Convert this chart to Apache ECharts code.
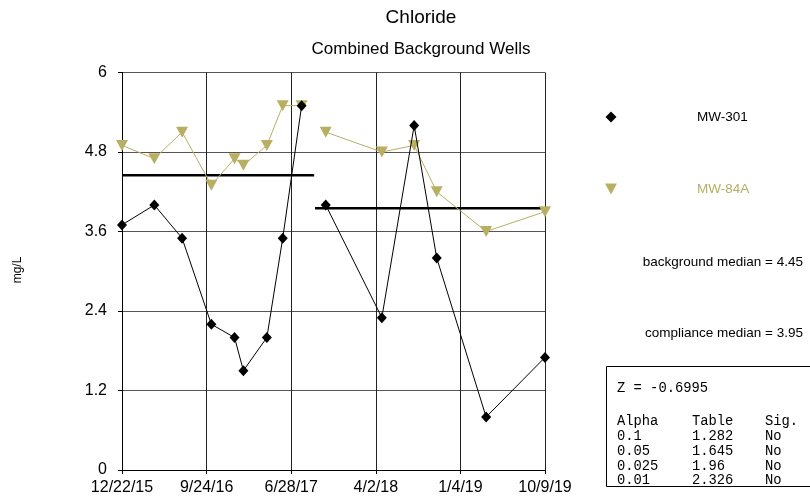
<!DOCTYPE html>
<html>
<head>
<meta charset="utf-8">
<script src="https://cdn.jsdelivr.net/npm/echarts@6/dist/echarts.min.js"></script>
<style>html,body{margin:0;padding:0;background:#fff}#c{width:810px;height:501px}</style>
</head>
<body>
<div id="c"></div>
<script>
// ---- data ----
const startDate = '2015-12-22';
const endDate = '2019-10-09';
const sampleDates = ['2015-12-22','2016-04-06','2016-07-06','2016-10-10','2016-12-25','2017-01-23','2017-04-10','2017-06-01','2017-08-02','2017-10-20','2018-04-22','2018-08-06','2018-10-19','2019-03-30','2019-10-09'];
const mw301 = [3.7,4.0,3.5,2.2,2.0,1.5,2.0,3.5,5.5,4.0,2.3,5.2,3.2,0.8,1.7];
const mw84a = [4.9,4.7,5.1,4.3,4.7,4.6,4.9,5.5,5.5,5.1,4.8,4.9,4.2,3.6,3.9];
const nBackground = 9; // first 9 samples = background period, rest = compliance
const bgMedianDates = ['2015-12-22','2017-09-12'];
const bgMedian = 4.45;
const cmMedianDates = ['2017-09-15','2019-10-09'];
const cmMedian = 3.95;
const yTicks = [0,1.2,2.4,3.6,4.8,6];
const tableRows = [['0.1','1.282','No'],['0.05','1.645','No'],['0.025','1.96','No'],['0.01','2.326','No']];
const zText = 'Z = -0.6995';

// ---- helpers ----
const DAY = 86400000;
const t0 = Date.parse(startDate + 'T00:00:00Z');
const toDay = s => Math.round((Date.parse(s + 'T00:00:00Z') - t0) / DAY);
const spanDays = toDay(endDate);
const xInterval = spanDays / 5;
function fmtDay(v) {
  const d = new Date(t0 + Math.floor(v + 1e-6) * DAY);
  return (d.getUTCMonth() + 1) + '/' + d.getUTCDate() + '/' + String(d.getUTCFullYear()).slice(2);
}
const olive = '#b8af62';
const F = 'Liberation Sans, Arial, sans-serif';
const M = 'Liberation Mono, Courier New, monospace';

const chart = echarts.init(document.getElementById('c'), null, {renderer: 'canvas'});

const graphics = [
  {type:'text', style:{text:'Chloride', x:421, y:18, textAlign:'center', textVerticalAlign:'middle', font:'19px ' + F, fill:'#000'}},
  {type:'text', style:{text:'Combined Background Wells', x:421, y:49, textAlign:'center', textVerticalAlign:'middle', font:'17px ' + F, fill:'#000'}},
  {type:'text', rotation:Math.PI/2, x:18, y:270, style:{text:'mg/L', x:0, y:0, textAlign:'center', textVerticalAlign:'middle', font:'12px ' + F, fill:'#000'}},
  {type:'polygon', shape:{points:[[611,111.5],[616.5,117],[611,122.5],[605.5,117]]}, style:{fill:'#000'}},
  {type:'text', style:{text:'MW-301', x:697, y:117, textAlign:'left', textVerticalAlign:'middle', font:'13.5px ' + F, fill:'#000'}},
  {type:'polygon', shape:{points:[[605,183.5],[617,183.5],[611,194.5]]}, style:{fill:olive}},
  {type:'text', style:{text:'MW-84A', x:697, y:189, textAlign:'left', textVerticalAlign:'middle', font:'13.5px ' + F, fill:olive}},
  {type:'text', style:{text:'background median = 4.45', x:803, y:262, textAlign:'right', textVerticalAlign:'middle', font:'13.5px ' + F, fill:'#000'}},
  {type:'text', style:{text:'compliance median = 3.95', x:803, y:333, textAlign:'right', textVerticalAlign:'middle', font:'13.5px ' + F, fill:'#000'}},
  {type:'rect', shape:{x:606.5, y:366.5, width:220, height:120}, style:{fill:'#fff', stroke:'#000', lineWidth:1}},
  {type:'text', style:{text:zText, x:617, y:388, textAlign:'left', textVerticalAlign:'middle', font:'13.8px ' + M, fill:'#000'}},
  {type:'text', style:{text:'Alpha', x:617, y:421.5, textAlign:'left', textVerticalAlign:'middle', font:'13.8px ' + M, fill:'#000'}},
  {type:'text', style:{text:'Table', x:692, y:421.5, textAlign:'left', textVerticalAlign:'middle', font:'13.8px ' + M, fill:'#000'}},
  {type:'text', style:{text:'Sig.', x:765, y:421.5, textAlign:'left', textVerticalAlign:'middle', font:'13.8px ' + M, fill:'#000'}}
];
tableRows.forEach((r, i) => {
  const y = 436.3 + i * 14.8;
  [617, 692, 765].forEach((x, j) => {
    graphics.push({type:'text', style:{text:r[j], x:x, y:y, textAlign:'left', textVerticalAlign:'middle', font:'13.8px ' + M, fill:'#000'}});
  });
});

function part(vals, from, to) {
  return sampleDates.slice(from, to).map((d, i) => [toDay(d), vals[from + i]]);
}
const n = sampleDates.length;
const olivePart = (data) => ({name:'MW-84A', type:'line', data:data,
  symbol:'triangle', symbolRotate:180, symbolSize:[12,11], showAllSymbol:true,
  lineStyle:{color:olive, width:1}, itemStyle:{color:olive}, z:3});
const blackPart = (data) => ({name:'MW-301', type:'line', data:data,
  symbol:'diamond', symbolSize:[10,11], showAllSymbol:true,
  lineStyle:{color:'#000', width:1}, itemStyle:{color:'#000'}, z:4});

chart.setOption({
  animation: false,
  backgroundColor: '#fff',
  grid: {left:122, right:265, top:72.5, bottom:31, containLabel:false},
  xAxis: {
    type:'value', min:0, max:spanDays, interval:xInterval,
    axisLine:{show:true, onZero:false, lineStyle:{color:'#000', width:1}},
    axisTick:{show:true, inside:false, length:4, lineStyle:{color:'#000'}},
    axisLabel:{formatter:fmtDay, color:'#000', fontSize:16, fontFamily:F, margin:10, showMinLabel:true, showMaxLabel:true, hideOverlap:false},
    splitLine:{show:true, lineStyle:{color:'#222', width:1}}
  },
  yAxis: {
    type:'value', min:yTicks[0], max:yTicks[yTicks.length-1], interval:1.2,
    axisLine:{show:true, onZero:false, lineStyle:{color:'#000', width:1}},
    axisTick:{show:true, inside:false, length:4, lineStyle:{color:'#000'}},
    axisLabel:{formatter:v => String(Math.round(v*10)/10), color:'#000', fontSize:16, fontFamily:F, margin:15},
    splitLine:{show:true, lineStyle:{color:'#555', width:1}}
  },
  series: [
    olivePart(part(mw84a, 0, nBackground)),
    olivePart(part(mw84a, nBackground, n)),
    blackPart(part(mw301, 0, nBackground)),
    blackPart(part(mw301, nBackground, n)),
    {name:'bg', type:'line', data:bgMedianDates.map(d=>[toDay(d), bgMedian]), symbol:'none',
     lineStyle:{color:'#000', width:2.5}, z:2},
    {name:'cm', type:'line', data:cmMedianDates.map(d=>[toDay(d), cmMedian]), symbol:'none',
     lineStyle:{color:'#000', width:2.5}, z:2}
  ],
  graphic: graphics
});
</script>
</body>
</html>
